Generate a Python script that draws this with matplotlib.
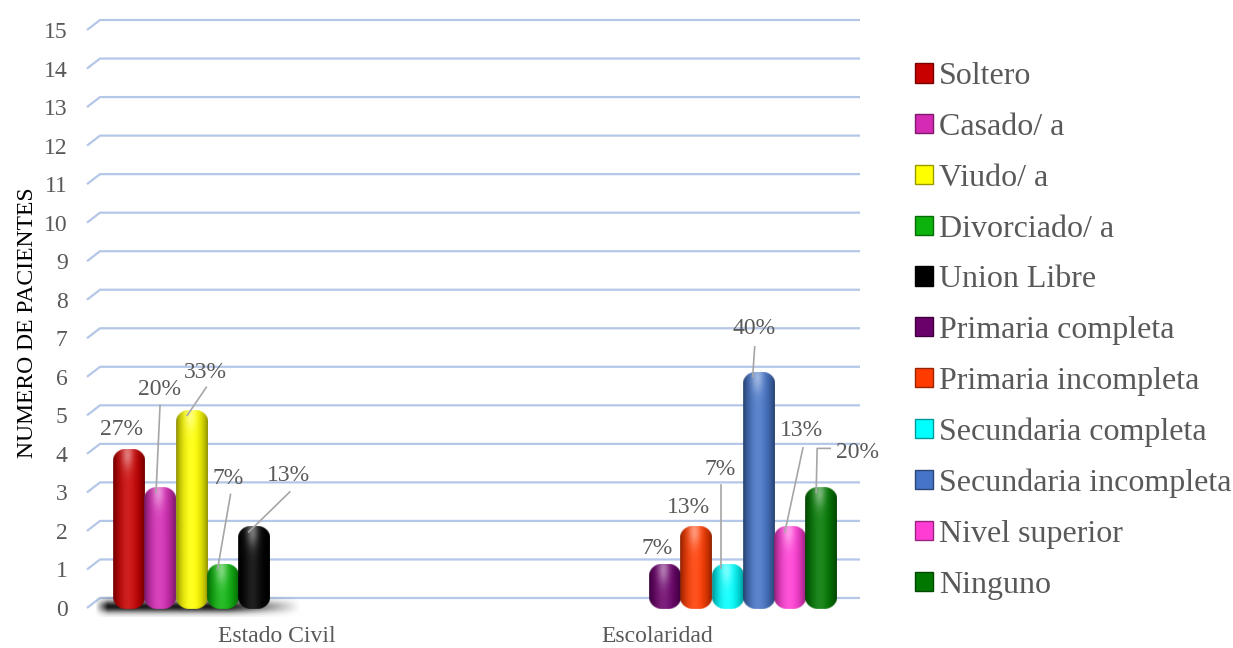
import numpy as np
import matplotlib
matplotlib.use("Agg")
import matplotlib.pyplot as plt
from matplotlib.patches import Patch
from matplotlib.colors import to_rgb

plt.rcParams['font.family'] = ['Liberation Serif', 'DejaVu Serif']

# data
categories = ['Estado Civil', 'Escolaridad']
series = ['Soltero', 'Casado/ a', 'Viudo/ a', 'Divorciado/ a', 'Union Libre',
          'Primaria completa', 'Primaria incompleta', 'Secundaria completa',
          'Secundaria incompleta', 'Nivel superior', 'Ninguno']
estado_civil = [4, 3, 5, 1, 2]
escolaridad = [1, 2, 1, 6, 2, 3]
total_pacientes = 15
yticks = list(range(0, 16))

colors = ['#C80000', '#D42AB4', '#FFFF00', '#0CB30C', '#000000',
          '#6A006A', '#FF3B00', '#00FFFF', '#4674C6', '#FF3CD4', '#007800']

values = estado_civil + escolaridad
cat_of = [0] * len(estado_civil) + [1] * len(escolaridad)

# label offsets (pixels from bar centre / value) and leader lines
label_off = [(-7, 24), (-1, 103), (14, 43), (6, 91), (35, 55),
             (-8, 21), (-8, 23), (-7, 100), (-5, 48), (12, 100), (36, 40)]
leaders = [None, [(0, 87), (-4, 0)], [(15, 28), (-4, 0)], [(8, 75), (-5, 0)],
           [(36, 39), (-5, -1)], None, None, [(-6, 84), (-6, 1)],
           [(-4, 30), (-6, 0)], [(13, 83), (-5, -1)],
           [(9, 44), (-4, 44), (-5, 0)]]

W, H = 1233, 648
fig = plt.figure(figsize=(W / 100, H / 100), dpi=100)
ax = fig.add_axes([87 / W, 40 / H, 760 / W, 578 / H])
XMAX, YMAX = 2, 15
pxx = 760 / XMAX
pxy = 578 / YMAX

# grid lines with a little depth
gdx, gdy = 13 / pxx, 10 / pxy
for v in yticks:
    ax.plot([0, gdx, XMAX + gdx], [v, v + gdy, v + gdy], color='#B4C7E7',
            lw=1.6, zorder=0, clip_on=False, solid_capstyle='butt')

# floor shadow under the first group
sx = np.linspace(0, 1, 200)
sy = np.linspace(0, 1, 40)
SX, SY = np.meshgrid(sx, sy)
alpha = (np.clip(SX / 0.06, 0, 1) * np.clip((1 - SX) / 0.35, 0, 1)
         * np.exp(-((SY - 0.5) / 0.3) ** 2))
shadow = np.zeros((40, 200, 4))
shadow[..., 3] = np.clip(alpha * 0.9, 0, 1)
ax.imshow(shadow, extent=(0.02, 0.56, -0.24, 0.3), origin='lower',
          aspect='auto', zorder=1, interpolation='bilinear', clip_on=False)

slot = 0.0822
bar_w = 0.083
top_cap = 5 / pxy


def bar_image(color, w_px, h_px, rx=13, ry=12, p=2.0):
    # shaded rounded column as an RGBA image, 3 samples per pixel
    base = np.array(to_rgb(color))
    nx, ny = int(w_px * 3), int(h_px * 3)
    X, Y = np.meshgrid((np.arange(nx) + 0.5) / 3, (np.arange(ny) + 0.5) / 3)
    U = X / w_px
    body = 0.5 + 0.5 * np.sin(np.pi * U) ** 0.7
    light = np.exp(-((U - 0.45) / 0.25) ** 2)
    glow = np.exp(-((U - 0.45) / 0.18) ** 2 - ((h_px - Y) / 14 - 0.4) ** 2)
    rgb = base[None, None, :] * body[..., None]
    rgb = rgb + (1 - rgb) * (0.12 * light + 0.35 * glow)[..., None]
    # corner mask
    ddx = np.maximum(np.maximum(rx - X, X - (w_px - rx)), 0) / rx
    ddy = np.maximum(np.maximum(ry - Y, Y - (h_px - ry)), 0) / ry
    d = (ddx ** p + ddy ** p) ** (1 / p)
    a = np.clip((1 - d) * min(rx, ry) + 0.5, 0, 1)
    return np.dstack([np.clip(rgb, 0, 1), a])


for i, v in enumerate(values):
    cx = cat_of[i] + 0.5 + 0.021 + (i - 5) * slot
    x0 = cx - bar_w / 2
    top = v + top_cap
    bottom = -0.02
    img = bar_image(colors[i], bar_w * pxx, (top - bottom) * pxy)
    ax.imshow(img, extent=(x0, x0 + bar_w, bottom, top), origin='lower',
              aspect='auto', zorder=3, interpolation='bilinear', clip_on=False)

    pct = f'{round(100 * v / total_pacientes)}%'
    dx, dy = label_off[i]
    ax.text(cx + dx / pxx, v + dy / pxy, pct, ha='center', va='center',
            fontsize=17, color='#595959', zorder=5, clip_on=False)
    if leaders[i]:
        lx = [cx + p[0] / pxx for p in leaders[i]]
        ly = [v + p[1] / pxy for p in leaders[i]]
        ax.plot(lx, ly, color='#A6A6A6', lw=1.2, zorder=4, clip_on=False)

ax.set_xlim(0, XMAX)
ax.set_ylim(0, YMAX)
for s in ax.spines.values():
    s.set_visible(False)
ax.set_yticks(yticks)
ax.set_xticks([0.5, 1.5])
ax.set_xticklabels(categories)
ax.tick_params(axis='y', length=0, pad=14, labelsize=17, labelcolor='#595959')
ax.tick_params(axis='x', length=0, pad=13, labelsize=17, labelcolor='#595959')
ax.set_ylabel('NUMERO DE PACIENTES', fontsize=17, color='black')
ax.yaxis.set_label_coords(-0.0645, 0.493)

handles = [Patch(facecolor=c, edgecolor=np.array(to_rgb(c)) * 0.6, lw=1)
           for c in colors]
fig.legend(handles, series, loc='center left', bbox_to_anchor=(915 / W, 1 - 331 / H),
           frameon=False, fontsize=23, labelcolor='#595959', handlelength=0.55,
           handleheight=0.55, handletextpad=0.2, labelspacing=0.68,
           borderpad=0, borderaxespad=0)

fig.savefig('out.png', dpi=100)
